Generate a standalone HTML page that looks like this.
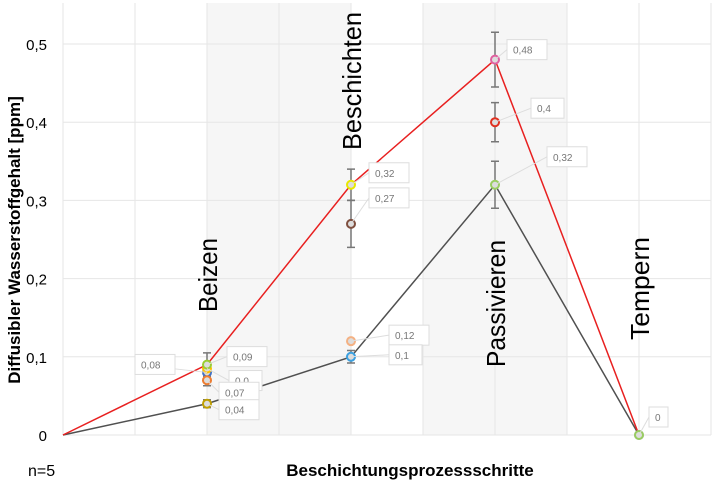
<!DOCTYPE html>
<html><head><meta charset="utf-8"><style>
body{margin:0;background:#fff;}
svg text{font-family:"Liberation Sans",sans-serif;}
</style></head><body>
<svg id="chart" width="715" height="488" xmlns="http://www.w3.org/2000/svg">
<g id="bg"></g><g id="grid"></g><g id="series"></g><g id="labels"></g>
<text transform="translate(20,240) rotate(-90)" text-anchor="middle" font-size="17" font-weight="bold" fill="#000">Diffusibler Wasserstoffgehalt [ppm]</text>
<text x="410" y="476" text-anchor="middle" font-size="17" font-weight="bold" fill="#000">Beschichtungsprozessschritte</text>
<text x="28" y="476" font-size="16" fill="#000">n=5</text>
</svg>
<script>
const categories=["Start","Beizen","Beschichten","Passivieren","Tempern"];
const redSeries=[0,0.09,0.32,0.48,0];
const graySeries=[0,0.04,0.1,0.32,0];
const yTicks=[0,0.1,0.2,0.3,0.4,0.5];
const yTickLabels=["0","0,1","0,2","0,3","0,4","0,5"];
const extraPoints=[[1,0.08,"#4472c4","0,08"],[1,0.085,"#ffc000","0,0"],[1,0.07,"#ed7d31","0,07"],[2,0.27,"#7f4f3f","0,27"],[2,0.12,"#f4b183","0,12"],[3,0.4,"#e03020","0,4"]];
const NS="http://www.w3.org/2000/svg";
const x=i=>63+i*144, y=v=>435-v*782;
function mk(t,a,p){const e=document.createElementNS(NS,t);for(const k in a)e.setAttribute(k,a[k]);p.appendChild(e);return e;}
const bg=document.getElementById('bg'),grid=document.getElementById('grid'),ser=document.getElementById('series'),lab=document.getElementById('labels');
let r=mk('rect',{x:207,y:3,width:144,height:432,fill:'#f6f6f6'},bg);

r=mk('rect',{x:423,y:3,width:144,height:432,fill:'#f6f6f6'},bg);

for(let gx=63;gx<=711;gx+=72){const l=mk('line',{x1:gx,x2:gx,y1:3,y2:435,stroke:'#e6e6e6'},grid);}
yTicks.forEach((v,i)=>{const l=mk('line',{x1:63,x2:711,y1:y(v),y2:y(v),stroke:'#e6e6e6'},grid);
const t=mk('text',{x:47,y:y(v)+6,'text-anchor':'end','font-size':15,fill:'#000'},grid);t.textContent=yTickLabels[i];});
function line(d,c,n){const p=mk('polyline',{points:d.map((v,i)=>x(i)+','+y(v)).join(' '),fill:'none',stroke:c,'stroke-width':1.5},ser);}
line(graySeries,'#505050','gray-series-line');line(redSeries,'#e82020','red-series-line');
function err(i,v,e){const g=mk('path',{d:`M${x(i)},${y(v+e)}V${y(v-e)}M${x(i)-4},${y(v+e)}h8M${x(i)-4},${y(v-e)}h8`,stroke:'#777','stroke-width':1.5,fill:'none'},ser);}
function label(i,v,txt,dx,dy){const bx=x(i)+dx,by=y(v)+dy;const l=mk('line',{x1:x(i),y1:y(v),x2:bx,y2:by+10,stroke:'#ddd'},lab);
const rc=mk('rect',{x:bx,y:by,width:txt.length*7+12,height:20,fill:'#fff',stroke:'#ddd'},lab);
const t=mk('text',{x:bx+6,y:by+14,'font-size':10,fill:'#777'},lab);t.textContent=txt;}
function pt(i,v,c,n){const p=mk('circle',{cx:x(i),cy:y(v),r:4,fill:'#ddd',stroke:c,'stroke-width':2},ser);}
[[1,0.015],[2,0.02],[3,0.035]].forEach(([i,e])=>err(i,redSeries[i],e));
[[1,0.005],[2,0.008],[3,0.03]].forEach(([i,e])=>err(i,graySeries[i],e));
err(2,0.27,0.03);err(3,0.4,0.025);err(1,0.075,0.012);
extraPoints.forEach(p=>pt(p[0],p[1],p[2],'extra-point'));
redSeries.forEach((v,i)=>{if(i>0)pt(i,v,['','#9acd32','#e8e800','#e060a0','#a0a0e0'][i],'red-point');});
graySeries.forEach((v,i)=>{if(i>0)pt(i,v,['','#c0a000','#3ba0e0','#9acd60','#9acd60'][i],'gray-point');});
label(1,0.08,'0,08',-72,-18);label(1,0.09,'0,09',20,-18);label(1,0.085,'0,0',22,2);label(1,0.07,'0,07',12,2);label(1,0.04,'0,04',12,-4);
label(2,0.32,'0,32',18,-22);label(2,0.27,'0,27',18,-36);label(2,0.12,'0,12',38,-16);label(2,0.1,'0,1',38,-12);
label(3,0.48,'0,48',12,-20);label(3,0.4,'0,4',36,-24);label(3,0.32,'0,32',52,-38);label(4,0,'0',10,-28);
const stepText=[[1,'Beizen',312,74],[2,'Beschichten',150,138],[3,'Passivieren',367,127],[4,'Tempern',340,103]];
stepText.forEach(([i,t,yy,len])=>{const e=mk('text',{transform:`translate(${x(i)+10},${yy}) rotate(-90)`,'font-size':26,textLength:len,lengthAdjust:'spacingAndGlyphs',fill:'#000'},lab);e.textContent=t;});
</script>
</body></html>
